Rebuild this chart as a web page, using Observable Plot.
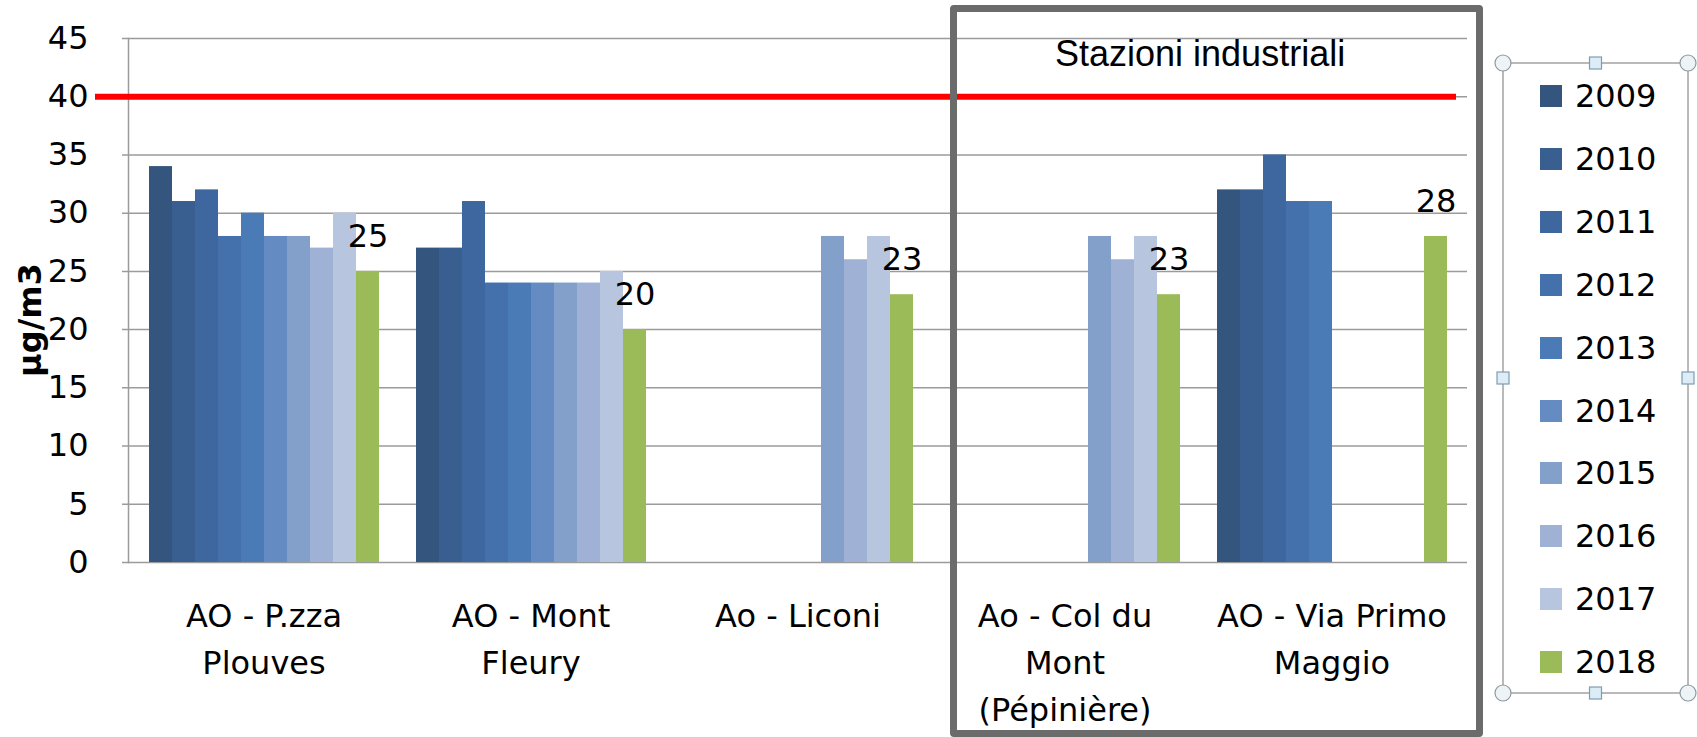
<!DOCTYPE html>
<html><head><meta charset="utf-8">
<script src="https://cdn.jsdelivr.net/npm/d3@7"></script>
<script src="https://cdn.jsdelivr.net/npm/@observablehq/plot@0.6"></script>
<style>
body{margin:0;background:#fff;}
#wrap{position:relative;width:1697px;height:737px;overflow:hidden;background:#fff;}
#wrap > svg{position:absolute;left:0;top:0;}
#box{position:absolute;left:950px;top:5px;width:533px;height:732px;box-sizing:border-box;border:7px solid #6b6b6b;border-radius:4px;}
#note{position:absolute;left:1055px;top:36px;font-family:"Liberation Sans",Arial,sans-serif;font-size:36px;line-height:36px;color:#000;white-space:nowrap;}
#ylab{position:absolute;left:30px;top:320px;transform:translate(-50%,-50%) rotate(-90deg);font-family:"DejaVu Sans",sans-serif;font-weight:bold;font-size:32px;color:#000;white-space:nowrap;}
#legend{position:absolute;left:0;top:0;}
.item{position:absolute;left:1540px;height:40px;display:flex;align-items:center;font-family:"DejaVu Sans",sans-serif;font-size:32px;color:#000;}
.sw{width:22px;height:22px;margin-right:13px;}
</style></head><body>
<div id="wrap"></div>
<script>
const stations = ["AO - P.zza Plouves", "AO - Mont Fleury", "Ao - Liconi", "Ao - Col du Mont (Pépinière)", "AO - Via Primo Maggio"];
const stationLabels = ["AO - P.zza\nPlouves", "AO - Mont\nFleury", "Ao - Liconi", "Ao - Col du\nMont\n(Pépinière)", "AO - Via Primo\nMaggio"];
const years = ["2009", "2010", "2011", "2012", "2013", "2014", "2015", "2016", "2017", "2018"];
const colors = ["#34567e", "#395f90", "#3e679f", "#4470ab", "#4a7bb7", "#648bc2", "#83a0ca", "#9fb2d5", "#b8c5df", "#9bbb59"];
const plouves = [34, 31, 32, 28, 30, 28, 28, 27, 30, 25];
const montFleury = [27, 27, 31, 24, 24, 24, 24, 24, 25, 20];
const liconi = [null, null, null, null, null, null, 28, 26, 28, 23];
const colDuMont = [null, null, null, null, null, null, 28, 26, 28, 23];
const viaPrimoMaggio = [32, 32, 35, 31, 31, null, null, null, null, 28];
const yTicks = [0, 5, 10, 15, 20, 25, 30, 35, 40, 45];
const limitValue = 40;
const labelYear = "2018";
const annotation = "Stazioni industriali";
const yLabel = "µg/m3";

const series = [plouves, montFleury, liconi, colDuMont, viaPrimoMaggio];
const rows = [];
series.forEach((vals, i) => vals.forEach((v, j) => {
  if (v != null) rows.push({station: stations[i], year: years[j], value: v});
}));

const W = 1697, H = 737;
const margins = {marginLeft: 128, marginRight: 230, marginTop: 38, marginBottom: 175};
const font = {fontFamily: "DejaVu Sans", fontSize: "32px", color: "#000", background: "transparent", overflow: "visible"};

const bg = Plot.plot({
  width: W, height: H, ...margins,
  style: font,
  x: {type: "band", domain: stations, padding: 0, label: null},
  y: {domain: [0, 45], label: null},
  marks: [
    Plot.ruleY(yTicks, {stroke: "#9b9b9b", strokeWidth: 1.5, insetLeft: -6}),
    Plot.axisY(yTicks, {tickSize: 0, tickPadding: 40, fontSize: 32, fill: "#000", label: null}),
    Plot.axisX({tickSize: 0, tickPadding: 31, fontSize: 32, fill: "#000", lineHeight: 1.47, label: null,
      tickFormat: d => stationLabels[stations.indexOf(d)]}),
    Plot.frame({anchor: "left", stroke: "#9b9b9b", strokeWidth: 1.5}),
    Plot.ruleY([limitValue], {stroke: "#ff0000", strokeWidth: 6, insetLeft: -33, insetRight: 11})
  ]
});

const fg = Plot.plot({
  width: W, height: H, ...margins,
  style: font,
  fx: {domain: stations, paddingInner: 0.12, paddingOuter: 0.06, axis: null, label: null},
  x: {domain: years, padding: 0, axis: null},
  y: {domain: [0, 45], axis: null},
  color: {domain: years, range: colors},
  marks: [
    Plot.barY(rows, {fx: "station", x: "year", y: "value", fill: "year"}),
    Plot.text(rows.filter(d => d.year === labelYear), {fx: "station", x: "year", y: "value",
      text: d => String(d.value), dy: -35, fontSize: 32, fill: "#000"})
  ]
});

const wrap = document.getElementById("wrap");
wrap.appendChild(bg);
wrap.appendChild(fg);

const box = document.createElement("div"); box.id = "box"; wrap.appendChild(box);
const note = document.createElement("div"); note.id = "note"; note.textContent = annotation; wrap.appendChild(note);
const yl = document.createElement("div"); yl.id = "ylab"; yl.textContent = yLabel; wrap.appendChild(yl);

// legend frame with selection handles
const ns = "http://www.w3.org/2000/svg";
const lg = document.createElementNS(ns, "svg");
lg.setAttribute("id", "legend"); lg.setAttribute("width", W); lg.setAttribute("height", H);
const L = 1503, R = 1688, T = 63, B = 693, MX = (L + R) / 2, MY = (T + B) / 2;
function el(tag, attrs) { const e = document.createElementNS(ns, tag); for (const k in attrs) e.setAttribute(k, attrs[k]); lg.appendChild(e); return e; }
el("rect", {x: L, y: T, width: R - L, height: B - T, fill: "none", stroke: "#a3a3a3", "stroke-width": 1.5});
[[L, T], [R, T], [L, B], [R, B]].forEach(([cx, cy]) => el("circle", {cx, cy, r: 8, fill: "#eef3f6", stroke: "#8c9aa3", "stroke-width": 1.2}));
[[MX, T], [MX, B], [L, MY], [R, MY]].forEach(([cx, cy]) => el("rect", {x: cx - 6, y: cy - 6, width: 12, height: 12, fill: "#dcedf7", stroke: "#7f9db0", "stroke-width": 1.2}));
wrap.appendChild(lg);

years.forEach((y, i) => {
  const it = document.createElement("div");
  it.className = "item";
  it.style.top = (96 + i * 62.9 - 20) + "px";
  const sw = document.createElement("div"); sw.className = "sw"; sw.style.background = colors[i];
  const tx = document.createElement("span"); tx.textContent = y;
  it.appendChild(sw); it.appendChild(tx);
  wrap.appendChild(it);
});
</script>
</body></html>
